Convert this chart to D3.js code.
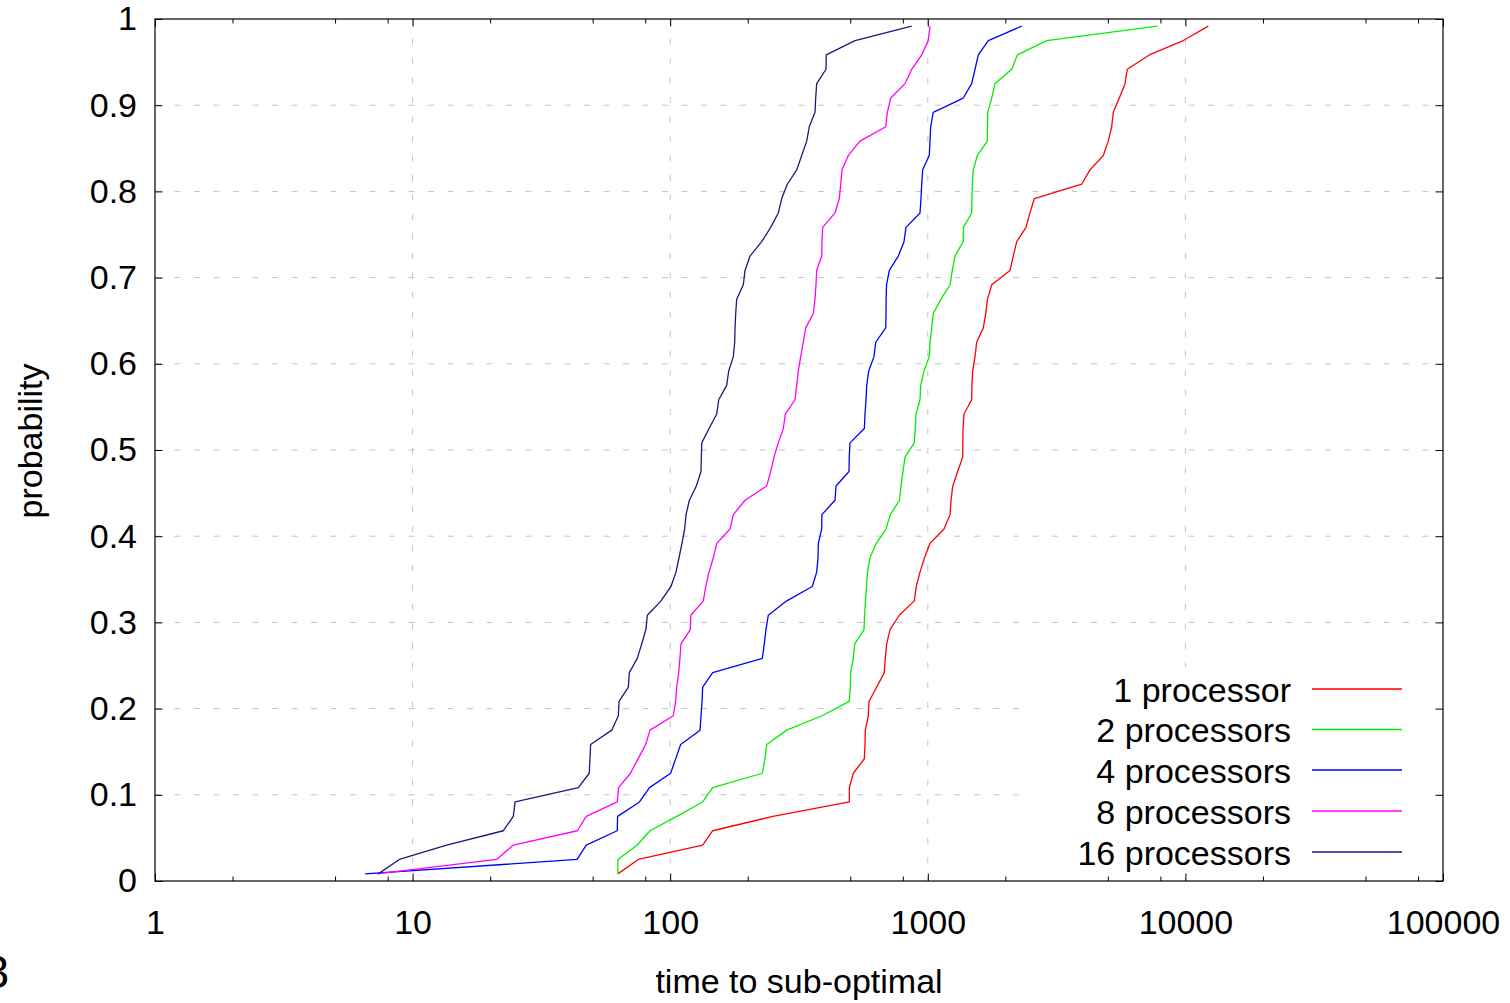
<!DOCTYPE html>
<html>
<head>
<meta charset="utf-8">
<script src="https://cdn.jsdelivr.net/npm/d3@7"></script>
<style>
  html, body { margin: 0; padding: 0; background: #fff; overflow: hidden; }
  svg { display: block; font-family: "Liberation Sans", Arial, sans-serif; }
</style>
</head>
<body>
<svg id="chart" width="1510" height="1003"></svg>
<script>
// ---- data ----
const probabilities = [0.0083, 0.025, 0.0417, 0.0583, 0.075, 0.0917, 0.1083, 0.125, 0.1417, 0.1583,
  0.175, 0.1917, 0.2083, 0.225, 0.2417, 0.2583, 0.275, 0.2917, 0.3083, 0.325,
  0.3417, 0.3583, 0.375, 0.3917, 0.4083, 0.425, 0.4417, 0.4583, 0.475, 0.4917,
  0.5083, 0.525, 0.5417, 0.5583, 0.575, 0.5917, 0.6083, 0.625, 0.6417, 0.6583,
  0.675, 0.6917, 0.7083, 0.725, 0.7417, 0.7583, 0.775, 0.7917, 0.8083, 0.825,
  0.8417, 0.8583, 0.875, 0.8917, 0.9083, 0.925, 0.9417, 0.9583, 0.975, 0.9917];

const time1 = [62.6, 75.2, 133.7, 146.2, 250.6, 495.6, 496, 513.8, 567, 570.5,
  572.1, 587.5, 591.3, 633.3, 677.9, 683.9, 692.6, 713.4, 775, 886.4,
  902.3, 932.7, 970.9, 1020, 1156, 1220, 1231, 1250, 1306, 1366,
  1368, 1370, 1382, 1480, 1484, 1494, 1525, 1548, 1643, 1678,
  1705, 1771, 2085, 2147, 2214, 2406, 2493, 2591, 3958, 4263,
  4800, 5019, 5174, 5249, 5539, 5829, 5950, 7243, 9815, 12270];

const time2 = [62.6, 62.7, 74.5, 83.5, 106.0, 133.7, 146.2, 227.9, 233.3, 236.9,
  283.4, 388.4, 495.6, 500.2, 502, 513.8, 520.3, 565.4, 568, 573,
  578.1, 583.3, 596.4, 631.1, 688.3, 715.3, 776.4, 787, 801.1, 815.6,
  886.4, 894.4, 900, 932.7, 938.5, 966.7, 1013, 1020, 1035, 1050,
  1125, 1220, 1245, 1275, 1373, 1375, 1480, 1484, 1489, 1502,
  1557, 1702, 1705, 1708, 1771, 1823, 2117, 2226, 2894, 7780];

const time4 = [6.54, 43.5, 47.2, 62.3, 62.5, 76.0, 83.1, 100.4, 105.0, 109.8,
  130.6, 131.7, 132.9, 133.7, 146.2, 227.9, 231.9, 235.4, 240.3, 283.4,
  356.1, 370.4, 374.9, 375.9, 387.3, 388.0, 436.3, 440.3, 494.5, 495.6,
  498.9, 567, 570.5, 575.6, 579.2, 589.7, 618.2, 627.8, 686.5, 688.3,
  689, 691.4, 709, 768.1, 808.3, 823, 932.7, 941.1, 946.9, 955.5,
  1013, 1020, 1026, 1050, 1373, 1480, 1525, 1571, 1718, 2315];

const time8 = [7.25, 21.2, 24.6, 43.6, 47.2, 62.3, 63.0, 70.1, 75.0, 80.3,
  83.5, 102.8, 105.0, 106.0, 107.9, 109.1, 110.1, 119.7, 120.2, 134.5,
  137.4, 141.5, 147.0, 151.6, 170.7, 175.8, 195.2, 236.9, 245.5, 252.9,
  262.8, 274.9, 279.9, 305.1, 309.8, 314.3, 321.1, 328.6, 335.7, 359.3,
  364.8, 368.1, 370.4, 387.3, 388.4, 390.8, 436.3, 453.4, 459.1, 464.5,
  491.4, 545.6, 686.5, 696.4, 717.8, 815.6, 866, 946.9, 1004, 1020];

const time16 = [7.36, 8.88, 13.56, 22.5, 24.6, 25.0, 44.0, 48.5, 48.8, 49.1,
  59.3, 62.9, 63.3, 68.8, 69.4, 74.5, 77.5, 80.5, 81.5, 92.1,
  100.7, 105.3, 108.2, 111.1, 113.8, 115.2, 118.7, 126.3, 131.7, 132.1,
  132.6, 141.5, 151.6, 154.3, 165.7, 168.7, 175.8, 178.0, 178.5, 179.6,
  181.2, 192.2, 195.2, 204.1, 226.6, 245.5, 262.8, 271.0, 284.9, 309.8,
  324.0, 338.8, 346.7, 364.8, 367.1, 370.4, 402.5, 403.5, 521.8, 866];

const seriesNames = ["1 processor", "2 processors", "4 processors", "8 processors", "16 processors"];
const seriesTimes = [time1, time2, time4, time8, time16];
const seriesColors = ["#ff0000", "#00ee00", "#0000ff", "#ff00ff", "#1a1a7a"];

const xMajorTicks = [1, 10, 100, 1000, 10000, 100000];
const xMinorTicks = [2, 5, 8, 20, 50, 80, 200, 500, 800, 2000, 5000, 8000, 20000, 50000, 80000];
const yTicks = [0, 0.1, 0.2, 0.3, 0.4, 0.5, 0.6, 0.7, 0.8, 0.9, 1];
const xTickLabels = ["1", "10", "100", "1000", "10000", "100000"];
const yTickLabels = ["0", "0.1", "0.2", "0.3", "0.4", "0.5", "0.6", "0.7", "0.8", "0.9", "1"];

// ---- layout ----
const L = 155, R = 1443, T = 19, B = 881;
const FS = 34;
const svg = d3.select("#chart");

const x = d3.scaleLog().domain([1, 100000]).range([L, R]);
const y = d3.scaleLinear().domain([0, 1]).range([B, T]);

// grid
const grid = svg.append("g").attr("stroke", "#c4c4c4").attr("stroke-width", 1)
  .attr("stroke-dasharray", "6,13.5").attr("fill", "none");
xMajorTicks.slice(1, -1).forEach(v => {
  grid.append("line").attr("x1", x(v)).attr("x2", x(v)).attr("y1", T).attr("y2", B);
});
yTicks.slice(1, -1).forEach(v => {
  grid.append("line").attr("x1", L).attr("x2", R).attr("y1", y(v)).attr("y2", y(v));
});

// legend blank area
svg.append("rect").attr("x", 1020).attr("y", 667).attr("width", R - 1020).attr("height", 205).attr("fill", "#fff");

// axes
function styleAxis(g) {
  g.select(".domain").remove();
  g.selectAll(".tick line").attr("stroke", "#000").attr("stroke-width", 1);
  g.selectAll("text").attr("font-size", FS).attr("fill", "#000")
    .attr("font-family", "'Liberation Sans', Arial, sans-serif");
}
const fmtX = (d) => xTickLabels[xMajorTicks.indexOf(d)];
const fmtY = (d) => yTickLabels[yTicks.findIndex(v => Math.abs(v - d) < 1e-9)];

svg.append("g").attr("transform", `translate(0,${B})`)
  .call(d3.axisBottom(x).tickValues(xMajorTicks).tickFormat(fmtX).tickSize(-7.5).tickPadding(29))
  .call(styleAxis);
svg.append("g").attr("transform", `translate(0,${B})`)
  .call(d3.axisBottom(x).tickValues(xMinorTicks).tickFormat("").tickSize(-4.5))
  .call(styleAxis);
svg.append("g").attr("transform", `translate(0,${T})`)
  .call(d3.axisTop(x).tickValues(xMajorTicks).tickFormat("").tickSize(-7.5))
  .call(styleAxis);
svg.append("g").attr("transform", `translate(0,${T})`)
  .call(d3.axisTop(x).tickValues(xMinorTicks).tickFormat("").tickSize(-4.5))
  .call(styleAxis);
svg.append("g").attr("transform", `translate(${L},0)`)
  .call(d3.axisLeft(y).tickValues(yTicks).tickFormat(fmtY).tickSize(-7.5).tickPadding(18))
  .call(styleAxis);
svg.append("g").attr("transform", `translate(${R},0)`)
  .call(d3.axisRight(y).tickValues(yTicks).tickFormat("").tickSize(-7.5))
  .call(styleAxis);

// frame
svg.append("rect").attr("x", L).attr("y", T).attr("width", R - L).attr("height", B - T)
  .attr("fill", "none").attr("stroke", "#000").attr("stroke-width", 1.2);

// curves
const line = d3.line().x(d => x(d[0])).y(d => y(d[1]));
seriesTimes.forEach((times, i) => {
  const pts = times.map((t, k) => [t, probabilities[k]]);
  svg.append("path").datum(pts).attr("d", line)
    .attr("fill", "none").attr("stroke", seriesColors[i]).attr("stroke-width", 1.3)
    .attr("stroke-linejoin", "round");
});

// legend
const legendY = [689, 729.5, 770, 811, 852];
seriesNames.forEach((name, i) => {
  svg.append("text").attr("x", 1291).attr("y", legendY[i] + 12.5)
    .attr("text-anchor", "end").attr("font-size", FS).attr("fill", "#000").text(name);
  svg.append("line").attr("x1", 1312).attr("x2", 1402).attr("y1", legendY[i]).attr("y2", legendY[i])
    .attr("stroke", seriesColors[i]).attr("stroke-width", 1.3);
});

// axis titles
svg.append("text").attr("transform", "translate(42,441) rotate(-90)")
  .attr("text-anchor", "middle").attr("font-size", FS).attr("fill", "#000").text("probability");
svg.append("text").attr("x", (L + R) / 2).attr("y", 993)
  .attr("text-anchor", "middle").attr("font-size", FS).attr("fill", "#000").text("time to sub-optimal");

// stray glyph partly visible at the lower-left edge (as in the reference)
svg.append("text").attr("x", -16.5).attr("y", 988).attr("font-size", 46).attr("fill", "#000").text("3");
</script>
</body>
</html>
